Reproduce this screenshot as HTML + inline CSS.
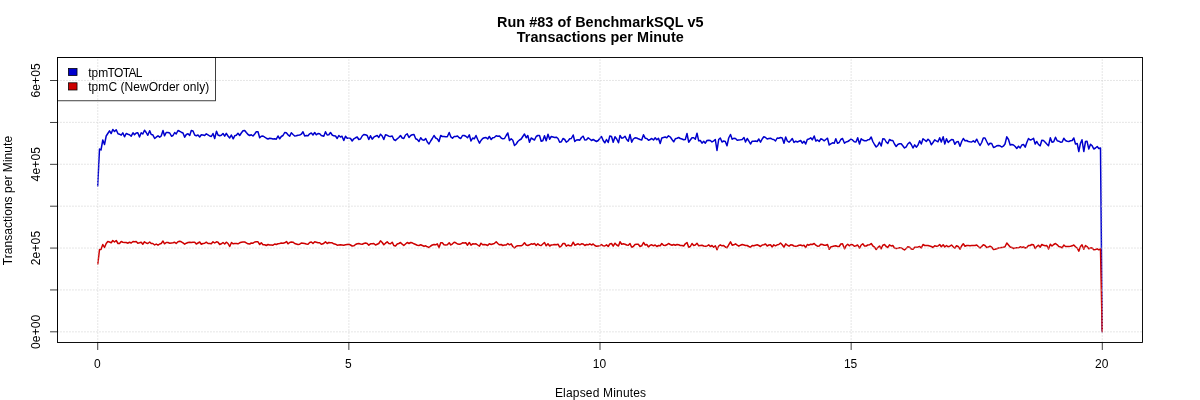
<!DOCTYPE html>
<html lang="en"><head><meta charset="utf-8"><title>Run #83 of BenchmarkSQL v5 - Transactions per Minute</title>
<style>
html,body{margin:0;padding:0;background:#fff;}
body{width:1200px;height:400px;overflow:hidden;}
svg{display:block;}
text{font-family:"Liberation Sans",Arial,Helvetica,sans-serif;fill:#000;}
.t{font-size:12px;}
.h{font-size:14.4px;font-weight:bold;}
.g{stroke:#d3d3d3;stroke-width:0.75;stroke-dasharray:0.75 2.25;stroke-linecap:round;fill:none;}
.a{stroke:#000;stroke-width:0.75;fill:none;}
</style></head><body>
<svg width="1200" height="400" viewBox="0 0 1200 400">
<rect x="0" y="0" width="1200" height="400" fill="#fff"/>

<text class="h" x="600.3" y="27.1" text-anchor="middle" textLength="206.5" lengthAdjust="spacing">Run #83 of BenchmarkSQL v5</text>
<text class="h" x="600.3" y="42.2" text-anchor="middle" textLength="167" lengthAdjust="spacing">Transactions per Minute</text>
<polyline points="97.7,186.0 99.5,149.0 101.0,150.0 102.8,140.0 104.5,144.5 106.2,136.0 107.8,133.5 109.5,130.8 111.2,133.5 112.8,129.5 114.5,131.5 116.2,129.7 118.0,133.8 119.5,134.2 121.2,135.2 122.8,132.8 124.5,136.8 126.2,133.5 128.0,134.2 129.5,134.7 131.2,136.2 133.0,132.8 134.5,134.8 136.2,133.0 137.8,132.8 139.5,137.0 141.2,132.8 142.8,134.0 144.5,130.3 146.2,132.5 147.8,135.3 149.7,130.8 151.2,134.5 152.8,134.8 154.7,138.5 156.2,137.2 158.0,135.8 159.7,137.2 161.2,136.0 163.0,130.5 164.5,135.8 166.2,132.5 168.0,132.5 169.7,133.0 171.5,136.2 173.0,135.5 174.7,132.5 176.2,134.0 178.0,130.5 179.7,131.3 181.3,132.2 183.0,133.0 184.7,137.2 186.3,134.5 188.0,133.8 189.7,135.5 191.3,130.5 193.0,131.0 194.7,135.0 196.3,135.8 198.0,135.0 199.7,137.0 201.3,134.8 203.0,135.0 204.7,135.5 206.3,133.8 208.0,134.8 209.7,136.0 211.3,136.5 213.0,133.5 214.7,138.5 216.5,131.3 218.0,135.0 219.7,135.8 221.3,135.2 223.0,133.5 224.7,136.2 226.3,133.3 228.0,136.0 229.7,138.0 231.3,135.0 233.2,138.8 234.7,135.8 236.3,135.3 238.0,133.3 239.7,135.5 241.3,133.0 243.0,130.8 244.7,130.5 246.3,132.5 248.0,134.5 249.7,135.5 251.3,134.8 253.0,136.0 254.7,134.0 256.3,131.8 258.0,131.8 259.7,137.8 261.3,136.2 263.0,136.0 264.7,137.2 266.3,138.2 268.0,139.0 269.7,138.3 271.3,138.5 273.0,139.0 274.7,138.8 276.3,139.2 278.0,136.0 279.7,138.8 281.3,136.5 283.0,135.5 284.7,132.5 286.3,132.8 288.0,134.8 289.7,136.2 291.3,132.8 293.0,134.5 294.7,136.0 296.3,135.8 298.0,135.2 299.7,135.0 301.3,134.2 303.0,131.8 304.7,136.0 306.3,135.5 308.0,135.8 309.7,133.8 311.3,133.0 313.0,135.0 314.7,132.5 316.3,134.8 318.0,133.5 319.7,133.8 321.3,135.5 323.8,136.2 325.5,131.8 327.2,135.0 328.8,134.8 330.5,132.5 332.2,135.0 333.8,135.8 335.5,136.0 337.2,138.5 338.8,135.5 340.5,137.0 342.0,136.2 343.8,140.5 345.5,136.2 347.2,138.2 348.8,138.0 350.5,138.5 352.2,141.0 353.8,138.8 355.5,137.8 357.2,137.0 358.8,139.5 360.5,139.0 362.2,136.0 363.8,134.5 365.5,134.8 367.2,135.5 368.8,139.5 370.5,135.8 372.2,139.2 373.8,137.2 375.5,136.2 377.2,135.5 378.8,137.5 380.5,134.2 382.2,136.0 383.8,139.5 385.5,134.8 387.2,135.3 388.8,136.2 390.5,136.5 392.2,136.0 393.8,139.5 395.5,140.5 397.2,138.8 398.8,137.5 400.5,135.5 402.2,138.0 403.8,138.5 405.5,135.0 407.2,133.8 409.0,137.5 410.7,135.5 412.2,134.8 414.0,134.5 415.7,138.8 417.3,139.5 419.0,141.5 420.7,137.8 422.3,139.8 424.0,140.2 425.7,138.5 427.3,142.0 429.0,144.0 430.7,141.0 432.3,138.5 434.0,135.5 435.7,138.0 437.3,138.8 439.0,141.5 440.7,135.5 442.3,136.5 444.0,136.5 445.7,136.8 447.3,136.8 449.2,132.5 450.8,136.8 452.5,138.2 454.2,136.5 455.8,136.5 457.5,136.0 459.2,137.8 460.8,138.5 462.5,135.5 464.2,135.5 465.8,136.2 467.5,137.8 469.3,134.8 471.0,141.0 472.7,138.0 474.3,138.8 476.0,135.5 477.7,139.5 479.5,143.2 481.0,140.5 482.7,138.5 484.3,137.8 486.0,137.5 487.7,139.0 489.3,136.5 491.2,139.5 492.7,137.8 494.3,137.5 496.2,135.8 497.8,136.2 499.5,136.0 501.2,138.0 502.8,138.8 504.5,138.5 506.2,135.5 507.8,133.0 509.5,140.5 511.2,138.8 512.8,140.2 514.5,145.5 516.2,144.0 517.8,141.5 519.5,140.0 521.2,139.0 522.8,136.5 524.5,134.0 526.2,137.8 527.8,135.5 529.5,142.2 531.2,138.0 532.8,139.0 534.5,140.0 536.2,136.5 537.8,135.5 539.5,135.5 541.2,141.2 542.8,140.8 544.5,135.8 546.2,140.8 548.0,134.2 549.7,139.2 551.3,136.5 553.0,137.0 554.7,137.5 556.3,137.2 558.0,138.5 559.7,142.2 561.3,141.8 563.0,138.5 564.7,139.5 566.3,142.2 568.0,141.0 569.7,138.8 571.3,138.5 573.2,135.0 574.8,141.5 576.5,140.0 578.2,139.8 579.8,140.2 581.5,137.5 583.2,136.2 584.8,140.0 586.5,139.8 588.2,137.8 589.8,139.0 591.5,140.5 593.2,139.5 594.8,140.5 596.5,141.5 598.2,140.5 599.8,138.5 601.5,136.5 603.2,140.5 604.8,142.8 606.5,139.5 608.2,142.5 609.8,136.0 611.5,136.5 613.2,142.2 615.0,136.8 616.7,139.0 618.5,142.8 620.0,135.5 621.7,138.2 623.3,137.8 625.0,136.2 626.7,139.5 628.3,141.2 630.0,134.5 631.7,142.2 633.3,139.0 635.0,137.8 636.7,138.0 638.3,138.8 640.0,139.5 641.7,140.0 643.5,134.8 645.2,138.2 646.8,138.5 648.5,140.2 650.2,139.5 651.8,138.5 653.5,140.0 655.2,137.8 656.8,139.8 658.5,138.2 660.2,143.5 661.8,138.0 663.5,137.5 665.2,137.0 666.8,137.8 668.5,135.8 670.3,137.0 672.0,139.5 673.7,141.8 675.3,138.8 677.0,138.3 678.7,137.5 680.3,138.5 682.0,139.0 683.7,139.8 685.3,139.5 687.0,133.5 688.7,142.2 690.3,140.0 692.0,137.8 693.7,137.8 695.3,139.2 697.0,133.2 698.7,140.8 700.3,140.5 702.0,143.2 703.7,141.2 705.3,143.2 707.0,140.5 708.7,140.2 710.3,140.5 712.0,142.0 713.7,140.8 715.3,139.5 717.0,150.5 718.7,139.5 720.3,138.0 722.0,142.0 723.7,141.0 725.3,141.5 727.0,145.8 728.7,138.0 730.5,134.5 732.2,139.2 733.8,138.3 735.5,138.5 737.2,140.2 738.8,140.0 740.5,139.8 742.2,139.5 744.0,137.5 745.5,142.0 747.2,138.5 748.8,141.0 750.5,144.0 752.2,141.2 753.8,141.2 755.5,141.0 757.2,141.5 758.8,139.0 760.5,142.2 762.2,139.0 763.8,136.8 765.5,137.5 767.2,139.0 768.8,138.5 770.5,138.2 772.2,139.2 773.8,139.5 775.5,141.0 777.2,138.0 778.8,138.2 780.5,137.5 782.2,138.0 784.0,143.2 785.7,137.0 787.3,141.0 789.0,142.2 790.7,140.5 792.3,138.5 794.0,142.5 795.7,141.2 797.3,142.0 799.0,141.2 800.7,140.5 802.3,143.2 804.0,141.2 805.7,144.0 807.3,139.5 809.0,139.0 810.7,137.8 812.3,139.8 814.2,136.0 815.8,141.0 817.5,140.0 819.2,141.5 820.8,138.8 822.5,139.5 824.2,140.8 825.8,139.5 827.5,138.2 829.2,145.0 830.8,143.8 832.5,142.8 834.2,143.2 835.8,138.8 837.5,143.2 839.2,142.5 840.8,139.5 842.5,138.5 844.5,143.2 846.0,142.0 847.7,141.5 849.3,140.5 851.0,139.0 852.7,140.2 854.3,141.8 856.0,142.0 857.7,137.8 859.5,144.0 861.2,138.8 862.8,140.0 864.5,140.8 866.2,140.8 867.8,139.8 869.5,139.5 871.2,137.0 872.8,141.5 874.5,144.5 876.2,147.0 877.8,145.5 879.5,142.2 881.2,146.0 882.8,138.8 884.5,139.0 886.2,142.0 887.8,143.5 889.5,139.5 891.2,140.5 892.8,140.5 894.5,144.0 896.2,146.5 897.8,144.5 899.5,143.8 901.2,143.8 902.8,145.8 904.5,148.0 906.2,146.8 907.8,144.0 909.7,142.2 911.3,144.5 913.0,148.0 914.7,144.8 916.3,147.2 918.0,145.0 919.7,140.8 921.3,144.0 923.0,138.8 924.7,140.0 926.3,141.5 928.0,139.2 929.7,140.8 931.3,144.8 933.0,142.5 934.7,139.8 936.3,140.8 938.0,141.8 939.7,137.8 941.3,142.0 943.2,136.8 944.8,144.0 946.5,138.8 948.2,142.5 949.8,140.8 951.5,139.5 953.2,139.8 954.8,144.2 956.5,142.0 958.2,141.5 960.0,146.2 961.7,141.5 963.3,138.5 965.0,140.8 966.7,140.5 968.3,141.5 970.0,141.8 971.7,142.0 973.3,140.8 975.0,142.2 976.7,139.2 978.3,142.5 980.0,145.5 981.7,142.5 983.3,138.0 985.0,138.0 986.7,141.5 988.5,145.0 990.0,143.2 991.7,143.5 993.5,147.5 995.0,147.0 996.7,145.8 998.3,145.5 1000.0,145.8 1001.7,147.0 1003.3,146.2 1005.0,144.0 1006.8,136.8 1008.5,139.5 1010.2,145.0 1011.8,144.5 1013.5,145.0 1015.2,146.5 1016.8,148.5 1018.5,146.2 1020.2,148.0 1021.8,145.0 1023.5,144.5 1025.2,147.2 1026.8,142.5 1028.5,138.5 1030.2,140.0 1031.8,139.5 1033.5,138.3 1035.2,144.0 1036.8,141.5 1038.5,144.5 1040.2,145.8 1041.8,140.2 1043.5,140.5 1045.2,142.2 1046.8,144.0 1048.5,145.8 1050.3,137.8 1052.0,142.2 1053.7,141.8 1055.5,137.2 1057.2,140.8 1058.8,141.2 1060.5,142.2 1062.2,142.0 1063.8,138.2 1065.5,140.5 1067.2,141.2 1068.8,141.5 1070.5,140.8 1072.2,140.5 1073.8,138.0 1075.5,144.0 1077.2,143.5 1078.8,151.5 1080.5,143.2 1082.0,139.8 1083.8,151.5 1085.5,141.5 1087.0,141.2 1088.8,149.0 1090.5,144.2 1092.2,145.8 1093.8,149.0 1095.5,148.0 1097.2,146.5 1098.8,148.5 1100.5,148.0 1102.2,331.8" fill="none" stroke="#0000cd" stroke-width="1.5" stroke-linejoin="round" stroke-linecap="round"/>
<polyline points="97.8,264.0 99.5,249.5 101.0,249.5 102.8,244.5 104.5,247.5 106.2,243.5 107.8,241.5 109.5,242.0 111.2,242.8 112.8,240.5 114.5,242.0 116.2,240.5 118.0,243.5 119.5,243.5 121.2,241.5 122.8,242.2 124.5,242.5 126.2,242.5 128.0,243.2 129.5,242.2 131.2,243.0 133.0,241.5 134.5,241.8 136.2,241.5 137.8,243.2 139.5,242.8 141.2,242.2 142.8,244.2 144.5,241.8 146.2,243.0 147.8,243.5 149.7,242.0 151.2,243.5 152.8,243.5 154.7,245.0 156.2,244.0 158.0,245.2 159.7,244.0 161.2,243.5 163.0,241.0 164.5,243.8 166.2,242.5 168.0,242.5 169.7,243.2 171.5,243.0 173.0,242.8 174.7,242.2 176.2,243.5 178.0,241.8 179.7,241.2 181.3,241.8 183.0,242.8 184.7,244.2 186.3,243.2 188.0,242.5 189.7,242.2 191.3,242.5 193.0,242.2 194.7,242.2 196.3,244.0 198.0,243.0 199.7,242.0 201.3,244.2 203.0,243.5 204.7,243.2 206.3,242.2 208.0,243.5 209.7,243.5 211.3,243.8 213.0,241.8 214.7,243.0 216.5,241.8 218.0,242.2 219.7,244.5 221.3,243.8 223.0,242.5 224.7,244.0 226.3,242.2 228.0,243.5 229.7,246.5 231.5,242.5 233.2,243.8 234.7,243.5 236.3,243.5 238.0,243.8 239.7,242.8 241.3,242.2 243.0,242.0 244.7,242.0 246.3,242.8 248.0,243.8 249.7,244.0 251.3,243.0 253.0,243.2 254.7,242.0 256.3,241.8 258.0,241.8 259.7,244.5 261.3,242.8 263.0,244.8 264.7,244.8 266.3,245.5 268.0,244.5 269.7,245.0 271.3,245.0 273.0,245.2 274.7,244.0 276.3,244.5 278.0,243.8 279.7,243.5 281.3,243.0 283.0,243.2 284.7,242.8 286.5,241.5 288.0,243.8 289.7,242.5 291.3,242.0 293.0,242.2 294.7,243.5 296.3,244.0 298.0,244.5 299.7,244.2 301.3,243.0 303.0,243.2 304.7,243.5 306.3,244.0 308.0,244.2 309.7,242.5 311.3,242.0 313.0,243.5 314.7,241.8 316.3,242.2 318.0,242.8 319.7,242.8 321.3,244.2 323.0,243.8 325.5,241.8 327.2,243.5 328.8,242.5 330.5,242.8 332.2,242.8 333.8,243.8 335.5,244.2 337.2,245.2 338.8,245.0 340.5,244.8 342.0,245.0 343.8,245.2 345.5,244.8 347.2,244.5 348.8,244.2 350.5,245.0 352.2,246.0 353.8,245.8 355.5,244.5 357.2,243.8 358.8,243.5 360.5,244.0 362.2,244.2 363.8,243.5 365.5,243.0 367.2,243.5 368.8,245.2 370.5,243.8 372.2,243.8 373.8,243.5 375.5,245.0 377.2,244.2 378.8,243.5 380.5,240.8 382.2,242.5 383.8,244.8 385.5,243.2 387.2,241.8 388.8,243.5 390.5,243.8 392.2,242.2 393.8,245.5 395.5,246.0 397.2,244.0 398.8,243.5 400.5,242.5 402.2,244.2 403.8,245.5 405.5,244.0 407.2,242.5 409.0,243.5 410.7,242.5 412.2,242.8 414.0,243.8 415.7,244.5 417.3,245.2 419.0,245.5 420.7,244.8 422.3,245.5 424.0,246.2 425.7,245.8 427.3,246.8 429.0,247.5 430.7,246.0 432.3,245.0 434.0,244.5 435.7,244.8 437.3,243.8 439.0,247.8 440.7,242.8 442.3,242.8 444.0,244.8 445.7,245.0 447.3,244.8 449.2,242.8 450.8,245.0 452.5,243.8 454.2,242.2 455.8,242.8 457.5,244.0 459.2,244.2 460.8,244.0 462.5,242.8 464.2,243.0 465.8,242.8 467.5,245.2 469.3,242.5 471.0,245.2 472.7,243.8 474.3,244.0 476.0,243.8 477.7,245.0 479.5,246.2 481.0,243.2 482.7,244.8 484.3,244.5 486.0,244.8 487.7,245.5 489.3,243.8 491.2,244.5 492.7,244.0 494.3,243.5 496.2,241.8 497.8,243.5 499.5,244.8 501.2,244.5 502.8,245.5 504.5,245.0 506.2,245.0 507.8,243.5 509.5,244.8 511.2,243.8 512.8,246.5 514.5,248.0 516.2,246.2 517.8,245.8 519.5,245.8 521.2,245.8 522.8,244.8 524.5,242.8 526.2,245.0 527.8,245.5 529.5,244.8 531.2,243.8 532.8,244.2 534.5,243.5 536.2,245.5 537.8,243.8 539.5,245.2 541.2,245.5 542.8,244.0 544.5,242.5 546.2,245.8 548.0,243.8 549.7,246.0 551.3,245.0 553.0,244.8 554.7,244.5 556.3,244.8 558.0,244.2 559.7,247.2 561.3,246.0 563.0,243.5 564.7,243.5 566.3,246.2 568.0,245.0 569.7,245.8 571.3,245.8 573.2,242.2 574.8,245.2 576.5,244.5 578.2,243.8 579.8,244.8 581.5,243.8 583.2,244.0 584.8,245.5 586.5,244.5 588.2,244.8 589.8,243.8 591.5,245.0 593.2,244.0 594.8,245.5 596.5,246.2 598.2,246.0 599.8,245.8 601.5,244.5 603.2,245.8 604.8,246.0 606.5,244.8 608.2,246.5 609.8,244.0 611.5,243.5 613.2,246.2 615.0,243.2 616.7,245.0 618.5,246.0 620.0,241.8 621.7,244.2 623.3,243.8 625.0,244.2 626.7,245.0 628.3,245.2 630.0,243.5 631.7,247.2 633.3,246.5 635.0,244.5 636.7,244.2 638.3,244.2 640.0,246.5 641.7,245.8 643.5,242.5 645.2,245.0 646.8,244.5 648.5,247.0 650.2,245.2 651.8,244.8 653.5,245.8 655.2,245.0 656.8,246.5 658.5,245.5 660.2,245.8 661.8,243.5 663.5,245.2 665.2,245.5 666.8,244.8 668.5,243.5 670.3,244.5 672.0,245.2 673.7,244.5 675.3,245.2 677.0,244.5 678.7,244.8 680.3,245.5 682.0,245.5 683.7,246.0 685.3,243.8 687.0,242.5 688.7,247.2 690.3,246.5 692.0,243.5 693.7,245.5 695.3,245.0 697.0,243.2 698.7,245.8 700.3,245.5 702.0,245.2 703.7,246.0 705.3,246.2 707.0,246.0 708.7,244.8 710.3,246.5 712.0,245.5 713.7,247.2 715.3,245.8 717.0,249.8 718.7,246.0 720.3,244.8 722.0,245.8 723.7,245.5 725.3,247.0 727.0,247.8 728.7,244.8 730.5,241.8 732.2,245.2 733.8,244.8 735.5,243.8 737.2,245.2 738.8,246.2 740.5,245.2 742.2,244.5 744.0,245.0 745.5,245.5 747.2,245.5 748.8,246.5 750.5,247.2 752.2,245.5 753.8,245.8 755.5,245.2 757.2,244.8 758.8,245.5 760.5,246.5 762.2,245.0 763.8,244.8 765.5,244.0 767.2,246.0 768.8,245.0 770.5,244.8 772.2,247.0 773.8,244.8 775.5,245.8 777.2,244.8 778.8,244.5 780.5,243.0 782.2,244.8 784.0,247.2 785.7,243.8 787.3,245.2 789.0,246.2 790.7,244.8 792.3,245.0 794.0,246.0 795.7,246.2 797.3,246.0 799.0,245.2 800.7,245.0 802.3,245.8 804.0,245.2 805.7,247.5 807.3,244.5 809.0,245.2 810.7,244.2 812.3,244.5 814.2,243.5 815.8,245.2 817.5,246.2 819.2,246.0 820.8,244.2 822.5,244.5 824.2,245.2 825.8,245.2 827.5,244.5 829.2,249.2 830.8,247.0 832.5,246.5 834.2,246.0 835.8,245.8 837.5,246.5 839.2,246.5 840.8,244.0 842.5,243.8 844.5,248.8 846.0,245.8 847.7,244.2 849.3,245.8 851.0,244.5 852.7,244.8 854.3,246.2 856.0,245.8 857.7,245.0 859.5,248.2 861.2,245.0 862.8,243.8 864.5,246.0 866.2,246.0 867.8,245.0 869.5,244.8 871.2,243.5 872.8,245.8 874.5,247.2 876.2,249.5 877.8,247.5 879.5,246.0 881.2,248.8 882.8,245.2 884.5,244.5 886.2,246.5 887.8,247.5 889.5,244.8 891.2,246.0 892.8,245.5 894.5,248.0 896.2,248.5 897.8,248.2 899.5,247.8 901.2,247.8 902.8,248.8 904.5,250.0 906.2,248.5 907.8,246.8 909.7,247.2 911.3,249.0 913.0,249.2 914.7,247.2 916.3,247.2 918.0,247.0 919.7,246.5 921.3,248.0 923.0,244.5 924.7,245.5 926.3,245.5 928.0,245.5 929.7,246.0 931.3,246.5 933.0,247.5 934.7,245.8 936.3,246.2 938.0,246.0 939.7,244.5 941.3,246.8 943.2,244.8 944.8,247.0 946.5,245.5 948.2,246.8 949.8,246.2 951.5,245.0 953.2,246.8 954.8,248.2 956.5,245.8 958.2,246.5 960.0,249.2 961.7,245.8 963.3,243.8 965.0,246.2 966.7,245.5 968.3,245.5 970.0,245.8 971.7,245.5 973.3,245.5 975.0,245.5 976.7,245.0 978.3,246.5 980.0,248.0 981.7,246.5 983.3,244.8 985.0,245.5 986.7,247.5 988.5,247.0 990.0,246.2 991.7,247.2 993.5,249.5 995.0,249.2 996.7,248.8 998.3,248.0 1000.0,247.8 1001.7,247.5 1003.3,247.2 1005.0,246.8 1006.8,243.0 1008.5,245.0 1010.2,247.0 1011.8,247.5 1013.5,248.5 1015.2,248.0 1016.8,247.8 1018.5,247.8 1020.2,246.8 1021.8,247.5 1023.5,247.0 1025.2,248.0 1026.8,247.5 1028.5,245.5 1030.2,245.5 1031.8,244.5 1033.5,244.8 1035.2,248.5 1036.8,246.5 1038.5,245.2 1040.2,247.2 1041.8,244.5 1043.5,245.2 1045.2,245.8 1046.8,245.5 1048.5,249.0 1050.3,244.2 1052.0,246.0 1053.7,244.5 1055.5,243.5 1057.2,244.8 1058.8,246.5 1060.5,247.0 1062.2,247.8 1063.8,245.0 1065.5,246.5 1067.2,246.5 1068.8,246.5 1070.5,246.2 1072.2,245.8 1073.8,245.0 1075.5,246.8 1077.2,248.0 1078.8,251.2 1080.5,246.5 1082.0,244.8 1083.8,249.2 1085.5,245.5 1087.0,246.5 1088.8,248.8 1090.5,247.8 1092.2,248.0 1093.8,249.8 1095.5,249.5 1097.2,248.8 1098.8,249.8 1100.5,249.0 1102.2,331.8" fill="none" stroke="#cd0000" stroke-width="1.5" stroke-linejoin="round" stroke-linecap="round"/>
<rect class="a" x="57.6" y="57.6" width="157.8" height="43.2" style="fill:#fff"/>
<rect x="68.4" y="68.4" width="8.64" height="7.2" fill="#0000cd" stroke="#000" stroke-width="0.75"/>
<rect x="68.4" y="82.8" width="8.64" height="7.2" fill="#cd0000" stroke="#000" stroke-width="0.75"/>
<text class="t" x="88.2" y="76.5">tpm<tspan dx="-0.6" letter-spacing="-0.7">TOTAL</tspan></text>
<text class="t" x="88.2" y="90.8" textLength="121.1" lengthAdjust="spacing">tpmC (NewOrder only)</text>
<line class="g" x1="97.78" x2="97.78" y1="342.4" y2="57.6"/>
<line class="g" x1="348.89" x2="348.89" y1="342.4" y2="57.6"/>
<line class="g" x1="600.00" x2="600.00" y1="342.4" y2="57.6"/>
<line class="g" x1="851.11" x2="851.11" y1="342.4" y2="57.6"/>
<line class="g" x1="1102.22" x2="1102.22" y1="342.4" y2="57.6"/>
<line class="g" x1="57.6" x2="1142.4" y1="331.85" y2="331.85"/>
<line class="g" x1="57.6" x2="1142.4" y1="289.95" y2="289.95"/>
<line class="g" x1="57.6" x2="1142.4" y1="248.05" y2="248.05"/>
<line class="g" x1="57.6" x2="1142.4" y1="206.15" y2="206.15"/>
<line class="g" x1="57.6" x2="1142.4" y1="164.25" y2="164.25"/>
<line class="g" x1="57.6" x2="1142.4" y1="122.35" y2="122.35"/>
<line class="g" x1="57.6" x2="1142.4" y1="80.45" y2="80.45"/>
<rect class="a" x="57.6" y="57.6" width="1084.8" height="284.8"/>
<rect class="a" x="57.6" y="57.6" width="1084.8" height="284.8"/>
<rect x="97.405" y="342.025" width="1005.190" height="0.750" fill="#000"/>
<rect x="97.405" y="342.025" width="0.750" height="7.950" fill="#000"/>
<text class="t" x="97.28" y="367.7" text-anchor="middle">0</text>
<rect x="348.515" y="342.025" width="0.750" height="7.950" fill="#000"/>
<text class="t" x="348.39" y="367.7" text-anchor="middle">5</text>
<rect x="599.625" y="342.025" width="0.750" height="7.950" fill="#000"/>
<text class="t" x="599.50" y="367.7" text-anchor="middle">10</text>
<rect x="850.735" y="342.025" width="0.750" height="7.950" fill="#000"/>
<text class="t" x="850.61" y="367.7" text-anchor="middle">15</text>
<rect x="1101.845" y="342.025" width="0.750" height="7.950" fill="#000"/>
<text class="t" x="1101.72" y="367.7" text-anchor="middle">20</text>
<rect x="57.225" y="80.075" width="0.750" height="252.150" fill="#000"/>
<rect x="50.025" y="331.475" width="7.950" height="0.750" fill="#000"/>
<rect x="50.025" y="289.575" width="7.950" height="0.750" fill="#000"/>
<rect x="50.025" y="247.675" width="7.950" height="0.750" fill="#000"/>
<rect x="50.025" y="205.775" width="7.950" height="0.750" fill="#000"/>
<rect x="50.025" y="163.875" width="7.950" height="0.750" fill="#000"/>
<rect x="50.025" y="121.975" width="7.950" height="0.750" fill="#000"/>
<rect x="50.025" y="80.075" width="7.950" height="0.750" fill="#000"/>
<text class="t" transform="translate(39.9 331.85) rotate(-90)" text-anchor="middle" textLength="34.3" lengthAdjust="spacing">0e+00</text>
<text class="t" transform="translate(39.9 248.05) rotate(-90)" text-anchor="middle" textLength="34.3" lengthAdjust="spacing">2e+05</text>
<text class="t" transform="translate(39.9 164.25) rotate(-90)" text-anchor="middle" textLength="34.3" lengthAdjust="spacing">4e+05</text>
<text class="t" transform="translate(39.9 80.45) rotate(-90)" text-anchor="middle" textLength="34.3" lengthAdjust="spacing">6e+05</text>
<text class="t" x="600.5" y="397" text-anchor="middle" textLength="91.2" lengthAdjust="spacing">Elapsed Minutes</text>
<text class="t" transform="translate(12.3 200.5) rotate(-90)" text-anchor="middle" textLength="129.3" lengthAdjust="spacing">Transactions per Minute</text>
</svg>
</body></html>
